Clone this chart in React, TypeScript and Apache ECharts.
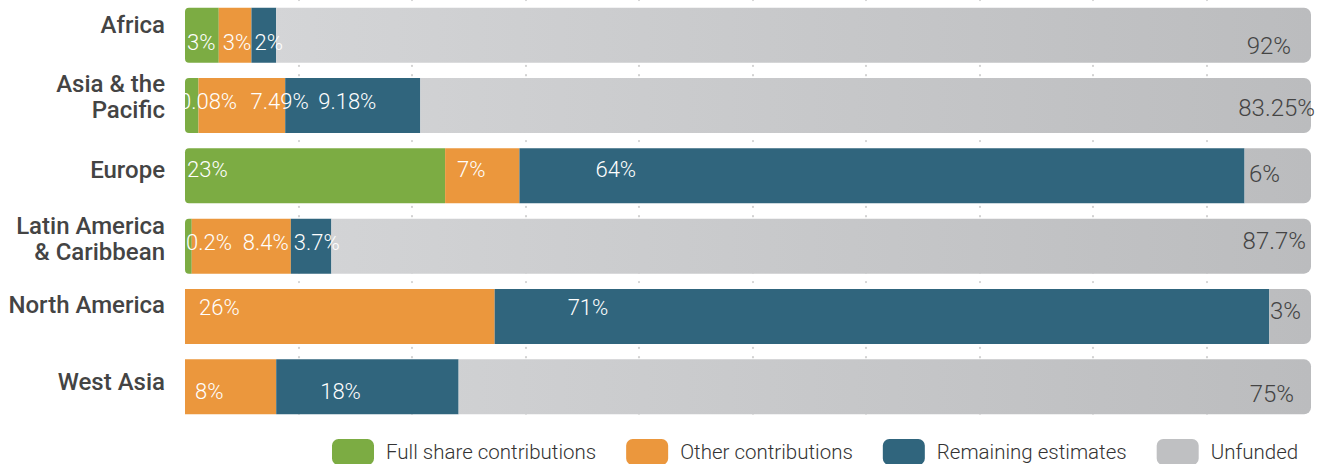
import React, { useEffect, useRef } from "react";
import * as echarts from "echarts";

const categories = [
  "Africa",
  "Asia & the\nPacific",
  "Europe",
  "Latin America\n& Caribbean",
  "North America",
  "West Asia",
];
const seriesNames = ["Full share contributions", "Other contributions", "Remaining estimates", "Unfunded"];

// bar lengths as drawn (percent of the row)
const fullShare = [3.0, 1.2, 23.1, 0.6, 0, 0];
const other = [2.9, 7.7, 6.6, 8.8, 27.5, 8.1];
const remaining = [2.2, 12.0, 64.4, 3.6, 68.8, 16.2];
const unfunded = [91.9, 79.1, 5.9, 87.0, 3.7, 75.7];

// printed labels
const fullShareLabels = ["3%", "0.08%", "23%", "0.2%", "", ""];
const otherLabels = ["3%", "7.49%", "7%", "8.4%", "26%", "8%"];
const remainingLabels = ["2%", "9.18%", "64%", "3.7%", "71%", "18%"];
const unfundedLabels = ["92%", "83.25%", "6%", "87.7%", "3%", "75%"];

// label placement (style)
const fullShareDx = [2, -6, 2, 1, 0, 0];
const otherDx = [4, 52, 12, 51, 14, 10];
const remainingDx = [3, 33, 76, 3, 73, 44];
const unfundedDx = [-20, 4, -31, -5, -10, -17];
const rowDy = [7, -4, -6, -4, -9, 5];
const grayDy = [11, 2, -2, -5, -6, 7];
const catLift = [10, 9, 6, 7, 12, 5];

const GREEN = "#7cac43";
const ORANGE = "#eb973d";
const BLUE = "#30657d";
const GRAY = "#bfc0c2";

export default function App() {
  const ref = useRef<HTMLDivElement>(null);

  useEffect(() => {
    document.body.style.margin = "0";
    if (!ref.current) return;
    const chart = echarts.init(ref.current, undefined, { renderer: "svg" });

    const mk = (
      name: string,
      values: number[],
      labels: string[],
      dx: number[],
      dy: number[],
      color: any,
      pos: string,
      textColor: string,
      fontSize: number,
      radius: number[]
    ) => ({
      name,
      type: "bar",
      stack: "total",
      barWidth: 55,
      xAxisIndex: 0,
      itemStyle: { color, borderRadius: radius },
      data: values.map((v, i) => ({
        value: v,
        label: {
          show: !!labels[i],
          formatter: labels[i] || "",
          position: pos,
          distance: 0,
          offset: [dx[i], dy[i]],
          color: textColor,
          fontFamily: "Roboto",
          fontSize,
          fontWeight: 300,
        },
      })),
    });

    const grayGradient = {
      type: "linear",
      x: 185,
      y: 0,
      x2: 1311,
      y2: 0,
      global: true,
      colorStops: [
        { offset: 0, color: "#d6d7d9" },
        { offset: 1, color: "#bbbcbe" },
      ],
    };

    const catFont = {
      fontFamily: "Roboto",
      fontSize: 24,
      fontWeight: 500,
      color: "#444",
      lineHeight: 26,
      align: "right",
    };
    const rich: Record<string, any> = { n: { ...catFont } };
    catLift.forEach((l, i) => {
      rich["s" + i] = { fontSize: 1, lineHeight: 2 * l, color: "transparent" };
    });

    chart.setOption({
      animation: false,
      grid: { left: 185, right: 14, top: 0, height: 422 },
      legend: {
        left: 332,
        top: 439,
        padding: 0,
        itemWidth: 42,
        itemHeight: 26,
        itemGap: 30,
        icon: "roundRect",
        textStyle: {
          fontFamily: "Roboto",
          fontSize: 20.5,
          fontWeight: 300,
          color: "#333",
          padding: [0, 0, 0, 7],
        },
        data: seriesNames.map((n, i) =>
          i === 3 ? { name: n, itemStyle: { color: GRAY } } : { name: n }
        ),
      },
      xAxis: [
        {
          type: "value",
          min: 0,
          max: 100,
          show: false,
          splitLine: { show: false },
        },
        {
          type: "value",
          min: 0,
          max: 99.2,
          interval: 10,
          position: "top",
          axisLine: { show: false },
          axisTick: { show: false },
          axisLabel: { show: false },
          splitLine: {
            show: true,
            showMinLine: false,
            showMaxLine: false,
            lineStyle: { color: "#d2d2d2", width: 2.2, type: [0.1, 9.3], cap: "round" },
          },
        },
      ],
      yAxis: {
        type: "category",
        inverse: true,
        data: categories,
        axisLine: { show: false },
        axisTick: { show: false },
        axisLabel: {
          margin: 20,
          ...catFont,
          formatter: (value: string, index: number) => {
            const lines = value.split("\n").map((ln) => `{n|${ln}}`);
            lines.push(`{s${index}| }`);
            return lines.join("\n");
          },
          rich,
        },
      },
      series: [
        mk(seriesNames[0], fullShare, fullShareLabels, fullShareDx, rowDy, GREEN, "insideLeft", "#fff", 22, [4, 0, 0, 4]),
        mk(seriesNames[1], other, otherLabels, otherDx, rowDy, ORANGE, "insideLeft", "#fff", 22, [0, 0, 0, 0]),
        mk(seriesNames[2], remaining, remainingLabels, remainingDx, rowDy, BLUE, "insideLeft", "#fff", 22, [0, 0, 0, 0]),
        mk(seriesNames[3], unfunded, unfundedLabels, unfundedDx, grayDy, grayGradient, "insideRight", "#444", 24, [0, 7, 7, 0]),
      ],
    });

    return () => chart.dispose();
  }, []);

  return <div ref={ref} style={{ width: 1325, height: 464 }} />;
}
